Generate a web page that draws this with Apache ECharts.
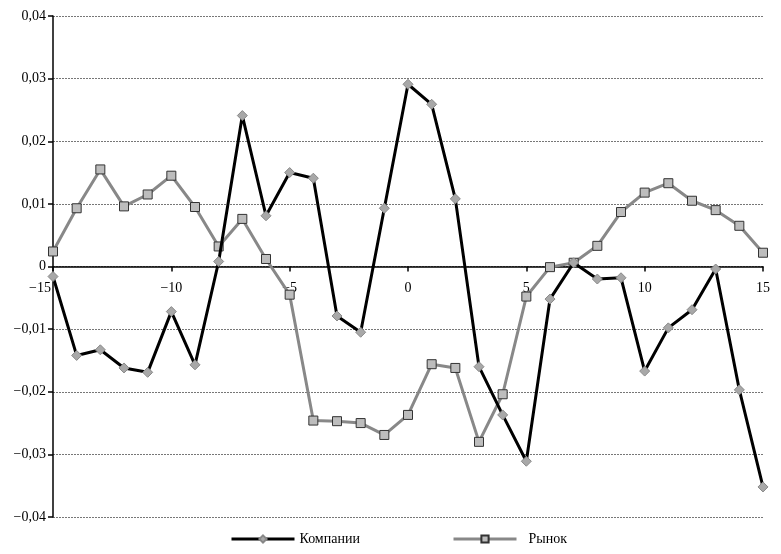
<!DOCTYPE html>
<html><head><meta charset="utf-8">
<script src="https://cdn.jsdelivr.net/npm/echarts@6/dist/echarts.min.js"></script>
<style>html,body{margin:0;padding:0;background:#fff}#c{width:781px;height:554px}</style>
</head><body><div id="c"></div>
<script>
const days = [-15,-14,-13,-12,-11,-10,-9,-8,-7,-6,-5,-4,-3,-2,-1,0,1,2,3,4,5,6,7,8,9,10,11,12,13,14,15];
const company = [-0.0016,-0.0142,-0.0133,-0.0162,-0.0169,-0.0072,-0.0157,0.0008,0.0241,0.0081,0.0150,0.0141,-0.0079,-0.0105,0.0093,0.0291,0.0259,0.0108,-0.0160,-0.0237,-0.0311,-0.0052,0.0006,-0.0020,-0.0018,-0.0167,-0.0098,-0.0069,-0.0004,-0.0197,-0.0352];
const market = [0.0024,0.0093,0.0155,0.0096,0.0115,0.0145,0.0095,0.0032,0.0076,0.0012,-0.0045,-0.0246,-0.0247,-0.0250,-0.0269,-0.0237,-0.0156,-0.0162,-0.0280,-0.0204,-0.0048,-0.0001,0.0006,0.0033,0.0087,0.0118,0.0133,0.0105,0.0090,0.0065,0.0022];
const seriesNames = ['Компании','Рынок'];

const fmt = v => String(v).replace('-', '\u2212').replace('.', ',');
const font = 'Liberation Serif';
const gridTop = 16, gridBottom = 37, H = 554;
const plotH = H - gridTop - gridBottom;
const chart = echarts.init(document.getElementById('c'));
const legendText = {fontFamily: font, fontSize: 14, color: '#000'};
chart.setOption({
  animation: false,
  textStyle: {fontFamily: font},
  grid: {left: 53, right: 18, top: gridTop, bottom: gridBottom, containLabel: false},
  legend: [
    {data: [seriesNames[0]], left: 225, bottom: 3, itemWidth: 63, itemHeight: 9,
     lineStyle: {width: 3}, textStyle: legendText},
    {data: [seriesNames[1]], left: 447, bottom: 3, itemWidth: 63, itemHeight: 9,
     lineStyle: {width: 3},
     formatter: n => '{b|' + n + '}',
     textStyle: Object.assign({}, legendText, {rich: {b: {fontFamily: font, fontSize: 14, color: '#000', padding: [0, 0, 0, 7]}}})}
  ],
  xAxis: {
    type: 'value', min: -15, max: 15, interval: 5,
    position: 'bottom',
    offset: -plotH / 2,
    axisLine: {onZero: false, lineStyle: {color: '#000', width: 1.5}},
    axisTick: {show: true, length: 5, lineStyle: {color: '#000', width: 1.5}},
    splitLine: {show: false},
    axisLabel: {
      margin: 15, fontSize: 14, color: '#000', fontFamily: font,
      formatter: v => v === -15 ? '{a|' + fmt(v) + '}' : fmt(v),
      rich: {a: {fontSize: 14, fontFamily: font, color: '#000', padding: [0, 26, 0, 0]}}
    }
  },
  yAxis: {
    type: 'value', min: -0.04, max: 0.04, interval: 0.01,
    axisLine: {show: true, onZero: false, lineStyle: {color: '#000', width: 1.5}},
    axisTick: {show: true, length: 5, lineStyle: {color: '#000', width: 1.5}},
    splitLine: {show: true, lineStyle: {color: '#777', type: [2, 1], width: 1}},
    axisLabel: {
      margin: 7, fontSize: 14, color: '#000', fontFamily: font,
      formatter: v => fmt(Math.round(v * 100) / 100)
    }
  },
  series: [
    {
      name: seriesNames[0], type: 'line',
      data: days.map((d, i) => [d, company[i]]),
      symbol: 'diamond', symbolSize: 10,
      lineStyle: {color: '#000', width: 3},
      itemStyle: {color: '#a8a8a8', borderColor: '#888', borderWidth: 1},
      z: 3
    },
    {
      name: seriesNames[1], type: 'line',
      data: days.map((d, i) => [d, market[i]]),
      symbol: 'rect', symbolSize: 9,
      lineStyle: {color: '#888', width: 3},
      itemStyle: {color: '#bdbdbd', borderColor: '#333', borderWidth: 1},
      z: 2
    }
  ]
});
</script></body></html>
